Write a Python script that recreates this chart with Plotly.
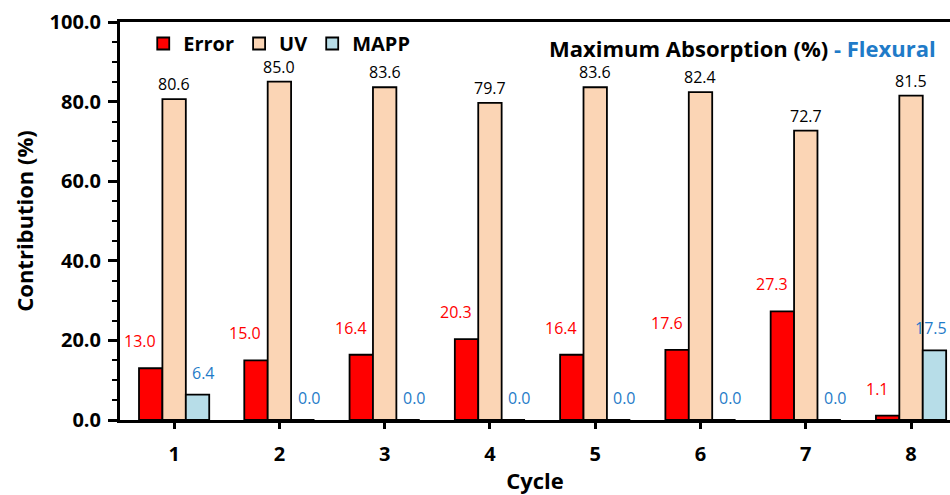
import plotly.graph_objects as go

cycles = [1, 2, 3, 4, 5, 6, 7, 8]
error_vals = [13.0, 15.0, 16.4, 20.3, 16.4, 17.6, 27.3, 1.1]
uv_vals = [80.6, 85.0, 83.6, 79.7, 83.6, 82.4, 72.7, 81.5]
mapp_vals = [6.4, 0.0, 0.0, 0.0, 0.0, 0.0, 0.0, 17.5]

FONT = "Open Sans"
RED = "#FF0000"
PEACH = "#FBD5B5"
LBLUE = "#B7DDE8"
BLUE_TXT = "#1F7BC8"
XMAX = 8.37

fig = go.Figure()
for name, vals, col in [("Error", error_vals, RED), ("UV", uv_vals, PEACH), ("MAPP", mapp_vals, LBLUE)]:
    fig.add_trace(go.Bar(
        x=cycles, y=vals, name=f"<b>{name}</b>",
        marker=dict(color=col, line=dict(color="black", width=1.8)),
    ))

bw = 0.667 / 3
ann = []
for c, v in zip(cycles, error_vals):
    ann.append(dict(x=c - bw - 0.1, y=v, yshift=27, text=f"{v:.1f}", showarrow=False,
                    font=dict(family=FONT, size=16, color=RED), xanchor="center", yanchor="middle"))
for c, v in zip(cycles, uv_vals):
    ann.append(dict(x=c, y=v, yshift=2, text=f"{v:.1f}", showarrow=False,
                    font=dict(family=FONT, size=16, color="black"), xanchor="center", yanchor="bottom"))
for c, v in zip(cycles, mapp_vals):
    ax = c + bw + 0.06
    anchor = "center"
    if ax + 0.18 > XMAX:
        ax = XMAX - 0.005
        anchor = "right"
    ann.append(dict(x=ax, y=v, yshift=22, text=f"{v:.1f}", showarrow=False,
                    font=dict(family=FONT, size=16, color=BLUE_TXT),
                    xanchor=anchor, yanchor="middle"))
ann.append(dict(xref="paper", yref="paper", x=0.985, y=0.935, xanchor="right", yanchor="middle",
                showarrow=False,
                text="<b>Maximum Absorption (%)</b> <b><span style='color:#1F7BC8'>- Flexural</span></b>",
                font=dict(family=FONT, size=22, color="black")))

fig.update_layout(
    width=950, height=495,
    margin=dict(l=120, r=0, t=22, b=75),
    paper_bgcolor="white", plot_bgcolor="white",
    barmode="group", bargap=0.333, bargroupgap=0,
    font=dict(family=FONT, color="black"),
    showlegend=True,
    legend=dict(orientation="h", x=0.028, y=0.995, xanchor="left", yanchor="top",
                font=dict(family=FONT, size=20, color="black"),
                bgcolor="rgba(0,0,0,0)", itemclick=False),
    annotations=ann,
)
fig.update_xaxes(
    range=[0.486, XMAX], tickmode="array", tickvals=cycles, ticktext=[f"<b>{c}</b>" for c in cycles],
    showline=True, linecolor="black", linewidth=3, mirror=True,
    ticks="outside", ticklen=6, tickwidth=2.5, tickcolor="black",
    ticklabelstandoff=8,
    tickfont=dict(family=FONT, size=20, color="black"),
    showgrid=False, zeroline=False,
    title=dict(text="<b>Cycle</b>", font=dict(family=FONT, size=22, color="black"), standoff=10),
)
fig.update_yaxes(
    range=[0, 100], dtick=20, tickformat=".1f",
    showline=True, linecolor="black", linewidth=3,
    ticks="outside", ticklen=9, tickwidth=2.5, tickcolor="black",
    ticklabelstandoff=3,
    minor=dict(dtick=5, ticks="outside", ticklen=5, tickwidth=2, tickcolor="black"),
    tickfont=dict(family=FONT, size=20, color="black", weight="bold"),
    showgrid=False, zeroline=False,
    title=dict(text="<b>Contribution (%)</b>", font=dict(family=FONT, size=22, color="black"), standoff=10),
)

fig.write_html("out.html")
